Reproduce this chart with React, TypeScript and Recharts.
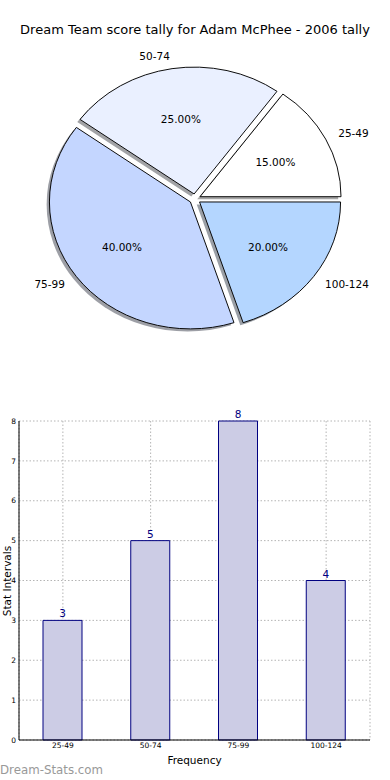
import { PieChart, Pie, Cell, BarChart, Bar, XAxis, YAxis, CartesianGrid, LabelList } from 'recharts';

// score intervals and how many games fell in each
const intervals = ['25-49', '50-74', '75-99', '100-124'];
const counts = [3, 5, 8, 4];
const sliceColors = ['#ffffff', '#eaf0ff', '#c4d6ff', '#b4d6ff'];
const yTicks = [0, 1, 2, 3, 4, 5, 6, 7, 8];

const data = intervals.map((name, i) => ({ name, value: counts[i] }));

const FONT = '"DejaVu Sans", sans-serif';
const PIE_CX = 195;
const PIE_CY = 199;
const PIE_R = 141;
const SQUASH = 0.9; // the original pie is drawn without equal aspect
const EXPLODE = 0.04;
const SHADOW = 0.02;
const RAD = Math.PI / 180;

const total = counts.reduce((a, b) => a + b, 0);
const midAngles = counts.map((c, i) => {
  const before = counts.slice(0, i).reduce((a, b) => a + b, 0);
  return ((before + c / 2) / total) * 360;
});

function sliceTransform(mid: number, shadow = false) {
  const ox = EXPLODE * PIE_R * Math.cos(mid * RAD) - (shadow ? SHADOW * PIE_R : 0);
  const oy = -EXPLODE * PIE_R * Math.sin(mid * RAD) + (shadow ? SHADOW * PIE_R : 0);
  return `translate(${PIE_CX} ${PIE_CY}) scale(1 ${SQUASH}) translate(${-PIE_CX} ${-PIE_CY}) translate(${ox} ${oy})`;
}

function shadowColor(hex: string) {
  const n = parseInt(hex.slice(1), 16);
  const r = Math.round(((n >> 16) & 255) * 0.3);
  const g = Math.round(((n >> 8) & 255) * 0.3);
  const b = Math.round((n & 255) * 0.3);
  return `rgb(${r},${g},${b})`;
}

function renderPieLabel(props: any) {
  const { cx, cy, midAngle, outerRadius, percent, name } = props;
  const cos = Math.cos(midAngle * RAD);
  const sin = Math.sin(midAngle * RAD);
  const at = (k: number) => ({
    x: cx + (EXPLODE + k) * outerRadius * cos,
    y: cy - (EXPLODE + k) * outerRadius * sin * SQUASH,
  });
  const outer = at(1.1);
  const inner = at(0.6);
  return (
    <g>
      <text
        x={outer.x}
        y={outer.y}
        textAnchor={cos >= 0 ? 'start' : 'end'}
        dominantBaseline="central"
        fontSize={10.5}
        fontFamily={FONT}
        fill="#000"
      >
        {name}
      </text>
      <text
        x={inner.x}
        y={inner.y}
        textAnchor="middle"
        dominantBaseline="central"
        fontSize={10.5}
        fontFamily={FONT}
        fill="#000"
      >
        {(percent * 100).toFixed(2)}%
      </text>
    </g>
  );
}

export default function App() {
  return (
    <div
      style={{
        position: 'absolute',
        top: 0,
        left: 0,
        width: 390,
        height: 780,
        background: '#fff',
        fontFamily: FONT,
        overflow: 'hidden',
      }}
    >
      <div
        style={{
          position: 'absolute',
          top: 22,
          left: 0,
          width: 390,
          lineHeight: '16px',
          textAlign: 'center',
          fontSize: 13,
          color: '#000',
        }}
      >
        Dream Team score tally for Adam McPhee - 2006 tally
      </div>

      <div style={{ position: 'absolute', top: 0, left: 0 }}>
        <PieChart width={390} height={390} margin={{ top: 0, right: 0, bottom: 0, left: 0 }}>
          <Pie
            data={data}
            dataKey="value"
            nameKey="name"
            cx={PIE_CX}
            cy={PIE_CY}
            outerRadius={PIE_R}
            label={false}
            labelLine={false}
            isAnimationActive={false}
          >
            {data.map((d, i) => (
              <Cell
                key={`shadow-${d.name}`}
                fill={shadowColor(sliceColors[i])}
                fillOpacity={0.5}
                stroke="none"
                transform={sliceTransform(midAngles[i], true)}
              />
            ))}
          </Pie>
          <Pie
            data={data}
            dataKey="value"
            nameKey="name"
            cx={PIE_CX}
            cy={PIE_CY}
            outerRadius={PIE_R}
            label={renderPieLabel}
            labelLine={false}
            isAnimationActive={false}
          >
            {data.map((d, i) => (
              <Cell
                key={`slice-${d.name}`}
                fill={sliceColors[i]}
                stroke="#000"
                strokeWidth={1}
                transform={sliceTransform(midAngles[i])}
              />
            ))}
          </Pie>
        </PieChart>
      </div>

      <div style={{ position: 'absolute', top: 390, left: 0 }}>
        <BarChart width={390} height={390} data={data} margin={{ top: 31, right: 20, bottom: 0, left: 0 }}>
          <XAxis
            dataKey="name"
            height={40}
            interval={0}
            tickSize={2}
            tickMargin={1}
            tickLine={false}
            axisLine={{ stroke: '#000' }}
            tick={{ fontSize: 7.5, fill: '#000', fontFamily: FONT }}
            label={{ value: 'Frequency', position: 'insideBottom', offset: 16, fontSize: 10.5, fill: '#000', fontFamily: FONT }}
          />
          <YAxis
            width={19}
            domain={[0, 8]}
            ticks={yTicks}
            interval={0}
            tickSize={2}
            tickMargin={1}
            tickLine={false}
            axisLine={{ stroke: '#000' }}
            tick={{ fontSize: 7.5, fill: '#000', fontFamily: FONT }}
          />
          <XAxis
            xAxisId="top"
            orientation="top"
            dataKey="name"
            height={0}
            tick={false}
            tickLine={false}
            axisLine={{ stroke: '#000' }}
          />
          <YAxis
            yAxisId="right"
            orientation="right"
            width={0}
            domain={[0, 8]}
            tick={false}
            tickLine={false}
            axisLine={{ stroke: '#000' }}
          />
          <Bar dataKey="value" fill="#cccce5" stroke="#000080" strokeWidth={1} barSize={39} isAnimationActive={false}>
            <LabelList dataKey="value" position="top" offset={3} fill="#000080" fontSize={10.5} fontFamily={FONT} />
          </Bar>
          <CartesianGrid strokeDasharray="1.5 2" stroke="#b4b4b4" />
        </BarChart>
      </div>

      <div
        style={{
          position: 'absolute',
          left: 7,
          top: 581,
          transform: 'translate(-50%, -50%) rotate(-90deg)',
          whiteSpace: 'nowrap',
          fontSize: 10.5,
          lineHeight: '12px',
          color: '#000',
        }}
      >
        Stat Intervals
      </div>

      <div
        style={{
          position: 'absolute',
          left: 0,
          top: 762,
          lineHeight: '16px',
          fontSize: 11.8,
          color: '#999',
          whiteSpace: 'nowrap',
        }}
      >
        Dream-Stats.com
      </div>
    </div>
  );
}
